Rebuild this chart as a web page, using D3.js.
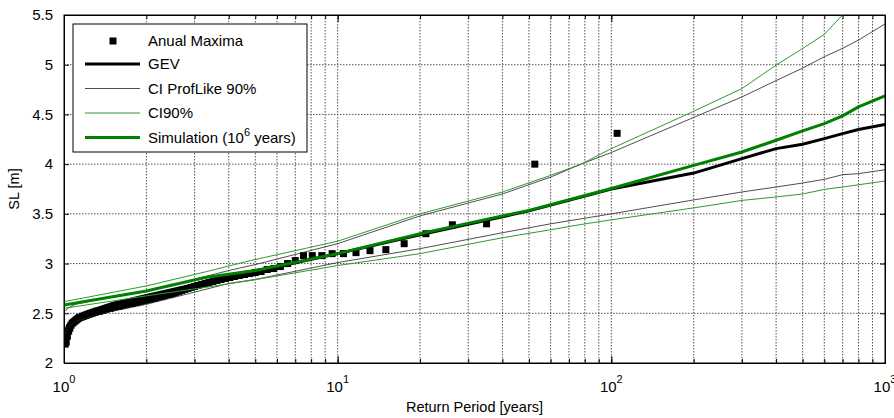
<!DOCTYPE html>
<html>
<head>
<meta charset="utf-8">
<script src="https://cdn.jsdelivr.net/npm/d3@7"></script>
<style>
  body { margin: 0; background: #fff; }
  svg { font-family: "Liberation Sans", Arial, sans-serif; }
</style>
</head>
<body>
<svg width="894" height="418"></svg>
<script>
// Annual maxima: return period [years] and sea level [m], by rank
const obsT = [105, 52.5, 35, 26.25, 21, 17.5, 15, 13.125, 11.667, 10.5,
  9.545, 8.75, 8.077, 7.5, 7, 6.5625, 6.176, 5.833, 5.526, 5.25,
  5, 4.773, 4.565, 4.375, 4.2, 4.038, 3.889, 3.75, 3.621, 3.5,
  3.387, 3.281, 3.182, 3.088, 3, 2.917, 2.838, 2.763, 2.692, 2.625,
  2.561, 2.5, 2.442, 2.386, 2.333, 2.283, 2.234, 2.188, 2.143, 2.1,
  2.059, 2.019, 1.981, 1.944, 1.909, 1.875, 1.842, 1.81, 1.78, 1.75,
  1.721, 1.694, 1.667, 1.641, 1.615, 1.591, 1.567, 1.544, 1.522, 1.5,
  1.479, 1.458, 1.438, 1.419, 1.4, 1.382, 1.364, 1.346, 1.329, 1.3125,
  1.296, 1.28, 1.265, 1.25, 1.235, 1.221, 1.207, 1.193, 1.18, 1.167,
  1.154, 1.141, 1.129, 1.117, 1.105, 1.094, 1.082, 1.071, 1.061, 1.05,
  1.04, 1.029, 1.019, 1.01];
const obsSL = [4.31, 4.00, 3.40, 3.39, 3.30, 3.20, 3.14, 3.13, 3.11, 3.10,
  3.10, 3.08, 3.08, 3.08, 3.03, 3.00, 2.97, 2.95, 2.94, 2.92,
  2.91, 2.90, 2.89, 2.88, 2.87, 2.86, 2.85, 2.84, 2.83, 2.82,
  2.81, 2.80, 2.79, 2.78, 2.77, 2.76, 2.75, 2.74, 2.73, 2.72,
  2.71, 2.70, 2.69, 2.69, 2.68, 2.67, 2.67, 2.66, 2.65, 2.65,
  2.64, 2.64, 2.63, 2.63, 2.62, 2.62, 2.61, 2.61, 2.60, 2.60,
  2.60, 2.59, 2.59, 2.58, 2.58, 2.57, 2.57, 2.57, 2.56, 2.56,
  2.55, 2.55, 2.55, 2.54, 2.54, 2.53, 2.53, 2.52, 2.52, 2.52,
  2.51, 2.51, 2.50, 2.50, 2.49, 2.49, 2.48, 2.48, 2.47, 2.47,
  2.46, 2.46, 2.45, 2.44, 2.43, 2.42, 2.41, 2.40, 2.38, 2.35,
  2.32, 2.27, 2.21, 2.19];

// GEV fit
const gevT  = [1.01, 1.03, 1.1, 1.2, 1.5, 2, 3, 5, 10, 20, 40, 50, 100, 200, 300, 400, 500, 600, 700, 800, 1000];
const gevSL = [2.30, 2.38, 2.46, 2.51, 2.60, 2.68, 2.79, 2.92, 3.10, 3.29, 3.47, 3.53, 3.75, 3.91, 4.055, 4.156, 4.20, 4.257, 4.307, 4.348, 4.40];

// CI profile likelihood 90%
const plT     = [1.01, 1.03, 1.1, 1.5, 2, 4, 5, 10, 20, 40, 60, 77.5, 100, 200, 300, 400, 500, 600, 700, 800, 1000];
const plUpper = [2.52, 2.55, 2.59, 2.67, 2.72, 2.93, 2.99, 3.20, 3.48, 3.70, 3.87, 4.0, 4.117, 4.47, 4.676, 4.84, 4.966, 5.08, 5.164, 5.248, 5.41];
const plLower = [2.30, 2.36, 2.42, 2.52, 2.59, 2.80, 2.84, 3.01, 3.15, 3.31, 3.40, 3.45, 3.50, 3.64, 3.72, 3.77, 3.81, 3.847, 3.894, 3.904, 3.944];

// CI 90%
const ciT     = [1, 2, 3.28, 4.8, 10, 20, 40, 60, 77.5, 100, 200, 300, 400, 500, 600, 700, 1000];
const ciUpper = [2.617, 2.775, 2.916, 3.03, 3.225, 3.50, 3.72, 3.887, 4.0, 4.156, 4.532, 4.76, 4.996, 5.163, 5.305, 5.5, 5.96];
const ciLower = [2.55, 2.675, 2.76, 2.83, 2.98, 3.10, 3.26, 3.34, 3.393, 3.44, 3.56, 3.635, 3.67, 3.70, 3.746, 3.77, 3.83];

// Simulation (10^6 years)
const simT  = [1, 2, 3.28, 5, 10, 20, 40, 50, 100, 200, 300, 400, 500, 600, 700, 800, 1000];
const simSL = [2.584, 2.725, 2.86, 2.93, 3.10, 3.30, 3.48, 3.535, 3.755, 3.988, 4.122, 4.24, 4.334, 4.408, 4.485, 4.576, 4.687];

const yTicks = [2, 2.5, 3, 3.5, 4, 4.5, 5, 5.5];
const xMajor = [1, 10, 100, 1000];

const svg = d3.select("svg"),
      width = +svg.attr("width"),
      height = +svg.attr("height"),
      margin = { top: 15, right: 9, bottom: 55, left: 64 };

const w = width - margin.left - margin.right;
const h = height - margin.top - margin.bottom;

const g = svg.append("g")
  .attr("transform", `translate(${margin.left},${margin.top})`);

const x = d3.scaleLog().domain([1, 1000]).range([0, w]);
const y = d3.scaleLinear().domain([2, 5.5]).range([h, 0]);

svg.append("defs").append("clipPath").attr("id", "clip")
  .append("rect").attr("width", w).attr("height", h);

// Grid (dotted)
const grid = g.append("g").attr("stroke", "#555").attr("stroke-dasharray", "1.5,1.5").attr("stroke-width", 1);
grid.selectAll(".gx")
  .data(x.ticks().filter(v => v > 1 && v < 1000))
  .enter().append("line")
  .attr("x1", d => x(d)).attr("x2", d => x(d))
  .attr("y1", 0).attr("y2", h);
grid.selectAll(".gy")
  .data(yTicks.filter(v => v > 2 && v < 5.5))
  .enter().append("line")
  .attr("x1", 0).attr("x2", w)
  .attr("y1", d => y(d)).attr("y2", d => y(d));

// Axes with inside ticks
g.append("g").attr("transform", `translate(0,${h})`)
  .call(d3.axisBottom(x).tickValues(x.ticks()).tickSize(-4).tickFormat(""));
g.append("g").attr("transform", `translate(0,${h})`)
  .call(d3.axisBottom(x).tickValues(xMajor).tickSize(-7).tickFormat(""));
g.append("g")
  .call(d3.axisTop(x).tickValues(x.ticks()).tickSize(-4).tickFormat(""));
g.append("g")
  .call(d3.axisTop(x).tickValues(xMajor).tickSize(-7).tickFormat(""));
g.append("g")
  .call(d3.axisLeft(y).tickValues(yTicks).tickSize(-5).tickPadding(11).tickFormat(d3.format("")))
  .call(a => a.selectAll("text").attr("font-size", 15).attr("fill", "#000").style("font-family", "inherit"));
g.append("g").attr("transform", `translate(${w},0)`)
  .call(d3.axisRight(y).tickValues(yTicks).tickSize(-5).tickFormat(""));
g.selectAll(".domain").attr("stroke", "#000");
g.selectAll(".tick line").attr("stroke", "#000");

// x tick labels 10^n
const xl = g.append("g").attr("font-size", 15);
xMajor.forEach((v, i) => {
  const t = xl.append("text")
    .attr("x", x(v)).attr("y", h + 29)
    .attr("text-anchor", "middle");
  t.append("tspan").text("10");
  t.append("tspan").attr("font-size", 11).attr("dy", -9).text(i);
});

// Axis titles
svg.append("text")
  .attr("x", margin.left + w / 2).attr("y", height - 6)
  .attr("text-anchor", "middle").attr("font-size", 14.5)
  .text("Return Period [years]");
svg.append("text")
  .attr("transform", `translate(19,${margin.top + h / 2}) rotate(-90)`)
  .attr("text-anchor", "middle").attr("font-size", 14.5)
  .text("SL [m]");

// Data layer
const plot = g.append("g").attr("clip-path", "url(#clip)");
const obs = obsT.map((t, i) => ({ t, v: obsSL[i] }));

plot.selectAll("rect.obs")
  .data(obs)
  .enter().append("rect")
  .attr("class", "obs")
  .attr("x", d => x(d.t) - 3.5).attr("y", d => y(d.v) - 3.5)
  .attr("width", 7).attr("height", 7)
  .attr("fill", "#000");

const line = d3.line().x(d => x(d[0])).y(d => y(d[1]));
const zip = (a, b) => a.map((t, i) => [t, b[i]]);

function drawLine(data, color, widthPx) {
  plot.append("path")
    .datum(data)
    .attr("fill", "none")
    .attr("stroke", color)
    .attr("stroke-width", widthPx)
    .attr("d", line);
}

drawLine(zip(gevT, gevSL), "#000", 3);
drawLine(zip(plT, plUpper), "#222", 0.8);
drawLine(zip(plT, plLower), "#222", 0.8);
drawLine(zip(ciT, ciUpper), "#2e9a2e", 1);
drawLine(zip(ciT, ciLower), "#2e9a2e", 1);
drawLine(zip(simT, simSL), "#008000", 3);

// Plot box
g.append("rect").attr("width", w).attr("height", h)
  .attr("fill", "none").attr("stroke", "#000").attr("stroke-width", 1);

// Legend
const leg = svg.append("g").attr("transform", "translate(73,24)");
leg.append("rect").attr("width", 234).attr("height", 128)
  .attr("fill", "#fff").attr("stroke", "#000");
const items = [
  { label: "Anual Maxima", kind: "marker" },
  { label: "GEV", color: "#000", sw: 3 },
  { label: "CI ProfLike 90%", color: "#222", sw: 0.8 },
  { label: "CI90%", color: "#2e9a2e", sw: 1 },
  { label: "Simulation (10", sup: "6", tail: " years)", color: "#008000", sw: 3 }
];
const rowY = [17, 40, 64.5, 89, 113.5];
items.forEach((it, i) => {
  const r = leg.append("g").attr("transform", `translate(0,${rowY[i]})`);
  if (it.kind === "marker") {
    r.append("rect").attr("x", 36.5).attr("y", -3.5).attr("width", 7).attr("height", 7).attr("fill", "#000");
  } else {
    r.append("line").attr("x1", 12).attr("x2", 67).attr("y1", 0).attr("y2", 0)
      .attr("stroke", it.color).attr("stroke-width", it.sw);
  }
  const t = r.append("text").attr("x", 75).attr("y", 5).attr("font-size", 15);
  t.append("tspan").text(it.label);
  if (it.sup) {
    t.append("tspan").attr("font-size", 11).attr("dy", -7).text(it.sup);
    t.append("tspan").attr("dy", 7).text(it.tail);
  }
});
</script>
</body>
</html>
